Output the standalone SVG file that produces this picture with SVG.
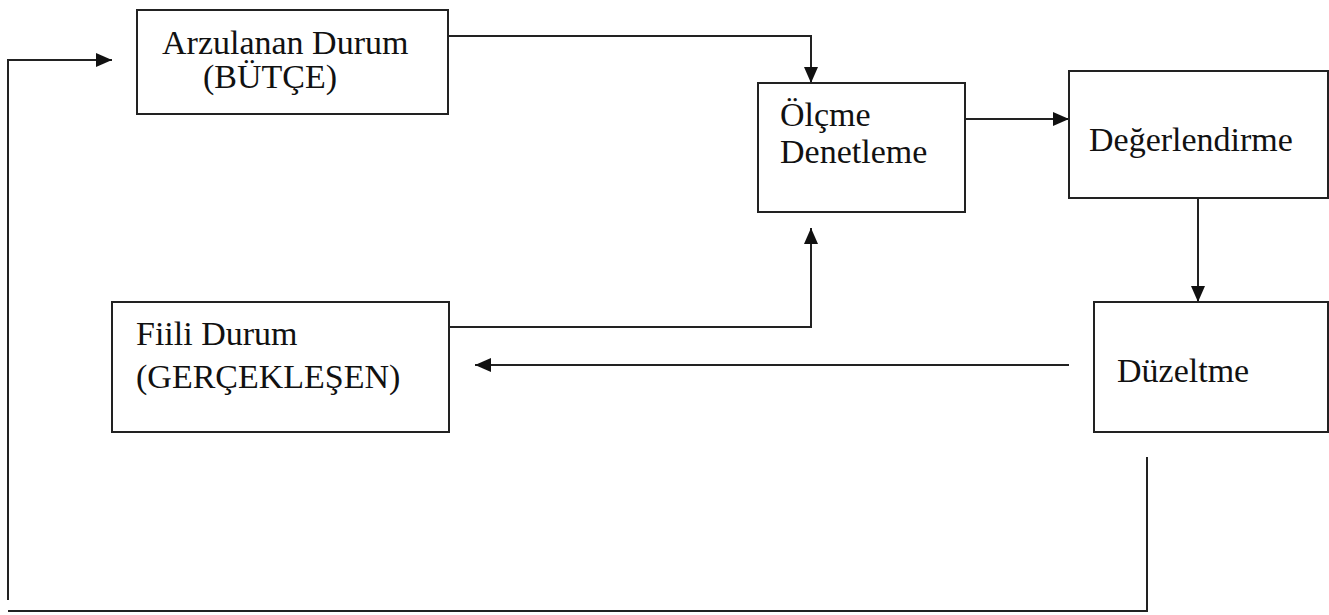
<svg xmlns="http://www.w3.org/2000/svg" width="1329" height="615" viewBox="0 0 1329 615">
<style>
.box{fill:#fff;stroke:#222;stroke-width:2}
.t{font-family:"Liberation Serif","Times New Roman",serif;font-size:34px;fill:#111}
.c{fill:none;stroke:#222;stroke-width:2}
</style>
<defs>
<marker id="ah" viewBox="0 0 16 14" refX="16" refY="7" markerWidth="16" markerHeight="14" markerUnits="userSpaceOnUse" orient="auto">
<path d="M0,0 L16,7 L0,14 Z" fill="#111"/>
</marker>
</defs>
<rect width="1329" height="615" fill="#fff"/>
<g id="connectors">
<path class="c" d="M8,600 V60 H112" marker-end="url(#ah)"/>
<path class="c" d="M448,36 H811 V83" marker-end="url(#ah)"/>
<path class="c" d="M965,119 H1069" marker-end="url(#ah)"/>
<path class="c" d="M1198,198 V302" marker-end="url(#ah)"/>
<path class="c" d="M449,327 H811 V228" marker-end="url(#ah)"/>
<path class="c" d="M1069,365 H475" marker-end="url(#ah)"/>
<path class="c" d="M1147,457 V611 H8"/>
</g>
<g id="arzulanan">
<rect class="box" x="137" y="10" width="311" height="104"/>
<text class="t" x="162" y="54">Arzulanan Durum</text>
<text class="t" x="203" y="88">(BÜTÇE)</text>
</g>
<g id="olcme">
<rect class="box" x="758" y="83" width="207" height="129"/>
<text class="t" x="780" y="126">Ölçme</text>
<text class="t" x="780" y="163">Denetleme</text>
</g>
<g id="degerlendirme">
<rect class="box" x="1069" y="71" width="259" height="127"/>
<text class="t" x="1089" y="151">Değerlendirme</text>
</g>
<g id="fiili">
<rect class="box" x="112" y="302" width="337" height="130"/>
<text class="t" x="136" y="345">Fiili Durum</text>
<text class="t" x="136" y="388">(GERÇEKLEŞEN)</text>
</g>
<g id="duzeltme">
<rect class="box" x="1094" y="302" width="234" height="130"/>
<text class="t" x="1117" y="382">Düzeltme</text>
</g>
</svg>
